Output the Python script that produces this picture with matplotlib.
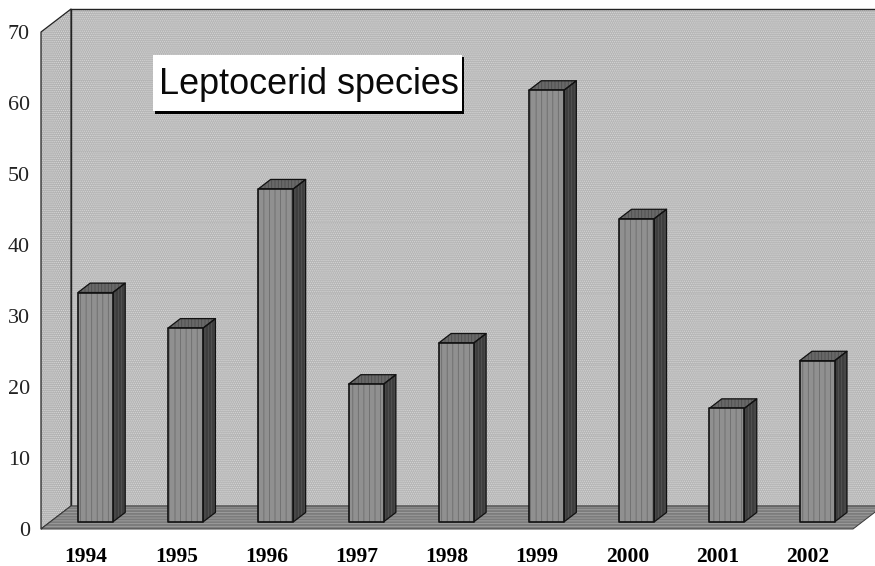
import matplotlib
matplotlib.use('Agg')
import matplotlib.pyplot as plt
from matplotlib.patches import Polygon, Rectangle

years = ['1994', '1995', '1996', '1997', '1998', '1999', '2000', '2001', '2002']
species = [32.3, 27.3, 46.9, 19.4, 25.2, 60.8, 42.7, 16.0, 22.7]
y_ticks = [0, 10, 20, 30, 40, 50, 60, 70]
title = 'Leptocerid species'

W, H = 875, 566
plt.rcParams['hatch.linewidth'] = 0.6

fig = plt.figure(figsize=(W / 100, H / 100), dpi=100)
ax = fig.add_axes([41 / W, 1 - 529 / H, 812 / W, 497 / H])
ax.set_xlim(-0.5, 8.5)
ax.set_ylim(0, 70)

# depth of the fake 3d box, in data units
DX = 30 / (812 / 9)
DY = 23 / (497 / 70)


def pt(x, y, d=0.0):
    return (x + d * DX, y + d * DY)


def face(points, color, hatch=None, hatch_color=None, edge='none', lw=0.0, z=1):
    ax.add_patch(Polygon(points, closed=True, facecolor=color, edgecolor=hatch_color or 'none',
                         hatch=hatch, lw=0, zorder=z, clip_on=False))
    if edge != 'none':
        ax.add_patch(Polygon(points, closed=True, fill=False, edgecolor=edge, lw=lw,
                             zorder=z + 0.1, clip_on=False, joinstyle='round'))


x0, x1 = -0.5, 8.5

# back wall, side wall, floor
face([pt(x0, 0, 1), pt(x1, 0, 1), pt(x1, 70, 1), pt(x0, 70, 1)],
     '#b6b6b6', '........', '#d6d6d6', '#222222', 1.0, z=1)
face([pt(x0, 0, 0), pt(x0, 0, 1), pt(x0, 70, 1), pt(x0, 70, 0)],
     '#b2b2b2', '........', '#dadada', '#222222', 0.9, z=1.2)
face([pt(x0, 0, 0), pt(x1, 0, 0), pt(x1, 0, 1), pt(x0, 0, 1)],
     '#7c7c7c', '------', '#a0a0a0', '#3a3a3a', 0.7, z=1.4)

# very faint gridlines on the back wall
for v in y_ticks[1:-1]:
    a, b = pt(x0, v, 1), pt(x1, v, 1)
    ax.plot([a[0], b[0]], [a[1], b[1]], color='#9a9a9a', lw=0.5, alpha=0.2, zorder=1.3, clip_on=False)

# bars
half = 17.5 / (812 / 9)
d_front, d_back = 0.31, 0.72
for i, v in enumerate(species):
    xl, xr = i - half, i + half
    face([pt(xr, 0, d_front), pt(xr, 0, d_back), pt(xr, v, d_back), pt(xr, v, d_front)],
         '#3e3e3e', '|||||', '#555555', '#111111', 0.9, z=3)
    face([pt(xl, v, d_front), pt(xr, v, d_front), pt(xr, v, d_back), pt(xl, v, d_back)],
         '#686868', '|||||', '#4e4e4e', '#111111', 0.9, z=3)
    face([pt(xl, 0, d_front), pt(xr, 0, d_front), pt(xr, v, d_front), pt(xl, v, d_front)],
         '#909090', '|||', '#6c6c6c', '#111111', 1.2, z=4)

ax.set_xticks(range(len(years)))
ax.set_xticklabels(years, family='Liberation Serif', fontweight='bold', fontsize=15.5)
ax.set_yticks(y_ticks)
ax.set_yticklabels(y_ticks, family='Liberation Serif', fontsize=15.8, color='#222222')
ax.tick_params(axis='both', length=0)
ax.tick_params(axis='x', pad=13)
ax.tick_params(axis='y', pad=8)
for s in ax.spines.values():
    s.set_visible(False)

# title box
fig.add_artist(Rectangle((155 / W, 1 - 113.5 / H), 309 / W, 56 / H, transform=fig.transFigure,
                         facecolor='black', edgecolor='none', zorder=6))
fig.add_artist(Rectangle((153 / W, 1 - 111 / H), 309 / W, 56 / H, transform=fig.transFigure,
                         facecolor='white', edgecolor='none', zorder=7))
fig.text(309 / W, 1 - 85 / H, title, family='Liberation Sans', fontsize=25.9,
         ha='center', va='center', color='#0a0a0a', zorder=8)

fig.savefig('out.png', dpi=100)
